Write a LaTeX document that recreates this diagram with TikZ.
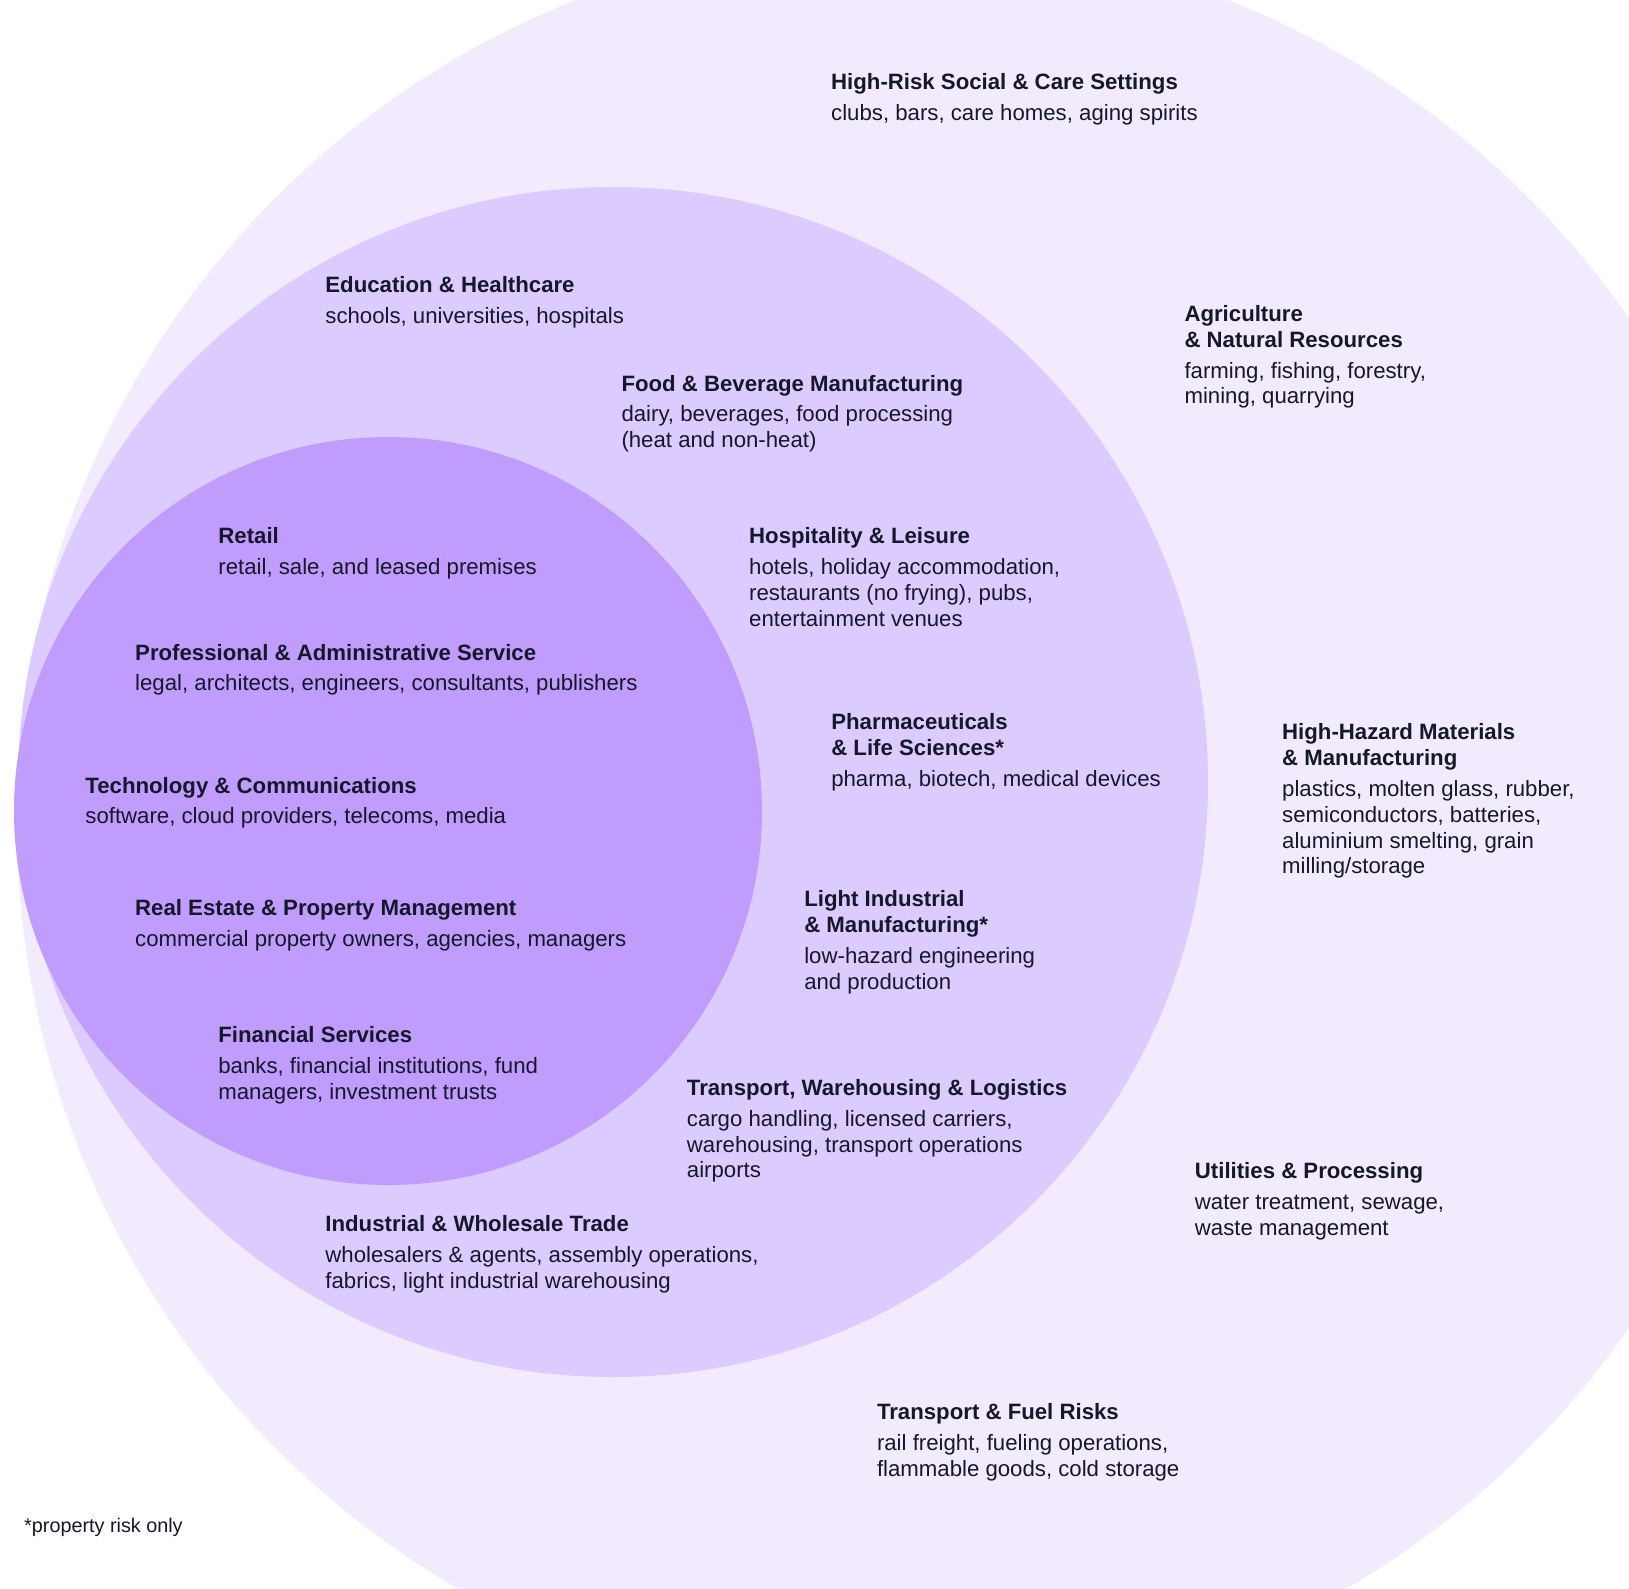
\documentclass[tikz,border=0pt]{standalone}
\usepackage{fontspec}
\setmainfont{Liberation Sans}
\definecolor{outerring}{HTML}{F2EBFD}
\definecolor{middlering}{HTML}{DCCBFE}
\definecolor{innerring}{HTML}{C09CFC}
\definecolor{ink}{HTML}{15172B}
\newcommand{\hd}[1]{\rule{0pt}{18pt}\textbf{#1}}

\begin{document}
\begin{tikzpicture}[x=1pt,y=-1pt,
    sector/.style={anchor=north west,yshift=18pt,align=left,inner sep=0pt,text=ink,
        font={\fontsize{22.2}{25.8}\selectfont}},
    note/.style={anchor=base west,inner sep=0pt,text=ink,font={\fontsize{19.8}{23}\selectfont}}]
    \useasboundingbox (0,0) rectangle (1629,1588);
    \fill[white] (0,0) rectangle (1629,1588);
    \begin{scope}
        \clip (0,0) rectangle (1629,1588);
        \fill[outerring] (902,823) circle[radius=885];
        \fill[middlering] (613,782) circle[radius=595];
        \fill[innerring] (388,811) circle[radius=374];
    \end{scope}

    % outer ring
    \node[sector] (social) at (831,89.6) {\hd{High-Risk Social \& Care Settings}\\[5pt] clubs, bars, care homes, aging spirits};
    \node[sector] (agri) at (1184.3,321.2) {\hd{Agriculture}\\ \textbf{\& Natural Resources}\\[5pt] farming, fishing, forestry,\\ mining, quarrying};
    \node[sector] (hazard) at (1282,739.6) {\hd{High-Hazard Materials}\\ \textbf{\& Manufacturing}\\[5pt] plastics, molten glass, rubber,\\ semiconductors, batteries,\\ aluminium smelting, grain\\ milling/storage};
    \node[sector] (util) at (1194.7,1178.3) {\hd{Utilities \& Processing}\\[5pt] water treatment, sewage,\\ waste management};
    \node[sector] (fuel) at (876.8,1419.4) {\hd{Transport \& Fuel Risks}\\[5pt] rail freight, fueling operations,\\ flammable goods, cold storage};

    % middle ring
    \node[sector] (edu) at (325.2,292.2) {\hd{Education \& Healthcare}\\[5pt] schools, universities, hospitals};
    \node[sector] (food) at (621.3,390.9) {\hd{Food \& Beverage Manufacturing}\\[5pt] dairy, beverages, food processing\\ (heat and non-heat)};
    \node[sector] (hosp) at (749,543.6) {\hd{Hospitality \& Leisure}\\[5pt] hotels, holiday accommodation,\\ restaurants (no frying), pubs,\\ entertainment venues};
    \node[sector] (pharma) at (831.1,729.5) {\hd{Pharmaceuticals}\\ \textbf{\& Life Sciences*}\\[5pt] pharma, biotech, medical devices};
    \node[sector] (light) at (804.1,906.1) {\hd{Light Industrial}\\ \textbf{\& Manufacturing*}\\[6pt] low-hazard engineering\\ and production};
    \node[sector] (logistics) at (686.7,1095.2) {\hd{Transport, Warehousing \& Logistics}\\[5pt] cargo handling, licensed carriers,\\ warehousing, transport operations\\ airports};
    \node[sector] (trade) at (325.2,1231.3) {\hd{Industrial \& Wholesale Trade}\\[5pt] wholesalers \& agents, assembly operations,\\ fabrics, light industrial warehousing};

    % inner circle
    \node[sector] (retail) at (218.2,543.6) {\hd{Retail}\\[5pt] retail, sale, and leased premises};
    \node[sector] (prof) at (135,659.9) {\hd{Professional \& Administrative Service}\\[5pt] legal, architects, engineers, consultants, publishers};
    \node[sector] (tech) at (85.2,792.9) {\hd{Technology \& Communications}\\[5pt] software, cloud providers, telecoms, media};
    \node[sector] (estate) at (135,915.5) {\hd{Real Estate \& Property Management}\\[5pt] commercial property owners, agencies, managers};
    \node[sector] (fin) at (218.2,1042.2) {\hd{Financial Services}\\[5pt] banks, financial institutions, fund\\ managers, investment trusts};

    \node[note] (footnote) at (24,1532.7) {*property risk only};
\end{tikzpicture}
\end{document}
